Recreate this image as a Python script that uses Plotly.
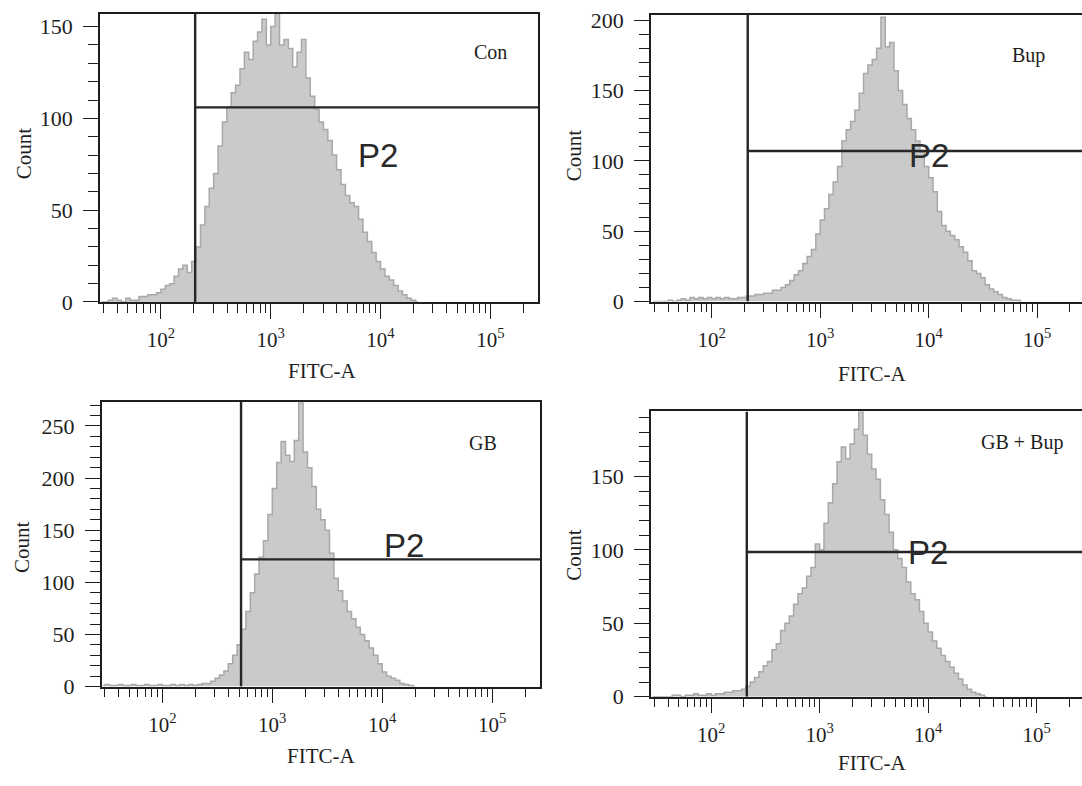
import plotly.graph_objects as go

# ---------------- data ----------------
panel_names = ["Con", "Bup", "GB", "GB + Bup"]

# histogram bins: centre of bin i is 10**(bin_log_start + i*bin_log_step)
bin_log_start = 1.46
bin_log_step = 0.04

con_counts = [0, 0, 1, 2, 1, 0, 2, 1, 1, 3, 3, 4, 4, 5, 7, 9, 10, 14, 18, 20,
              16, 22, 30, 42, 52, 62, 70, 85, 98, 106, 114, 118, 127, 136, 132, 142, 147, 154, 140, 150,
              157, 140, 143, 138, 128, 136, 143, 122, 112, 105, 98, 94, 88, 80, 72, 64, 58, 54, 52, 45,
              38, 33, 27, 22, 18, 14, 12, 9, 6, 4, 2, 1, 0]

bup_counts = [0, 0, 0, 0, 1, 0, 1, 2, 1, 3, 2, 3, 2, 3, 2, 3, 2, 3, 2, 2,
              3, 3, 4, 4, 5, 5, 6, 6, 8, 8, 10, 12, 15, 19, 22, 27, 32, 37, 48, 58,
              66, 76, 85, 96, 114, 122, 128, 136, 148, 162, 168, 172, 180, 202, 181, 184, 164, 150, 140, 130,
              122, 114, 106, 96, 88, 78, 64, 54, 50, 47, 44, 39, 35, 29, 22, 20, 17, 12, 9, 7,
              5, 3, 2, 1, 1, 0]

gb_counts = [1, 2, 1, 1, 2, 1, 1, 2, 1, 1, 2, 1, 1, 2, 1, 1, 2, 1, 2, 1,
             2, 1, 2, 3, 3, 5, 8, 11, 15, 22, 30, 40, 55, 72, 90, 108, 124, 140, 165, 190,
             215, 235, 222, 216, 236, 272, 225, 210, 192, 170, 160, 150, 128, 104, 92, 82, 72, 65, 57, 50,
             44, 37, 30, 22, 14, 10, 8, 6, 3, 2, 1, 0]

gbbup_counts = [0, 0, 0, 0, 0, 1, 1, 0, 1, 1, 2, 1, 1, 2, 1, 2, 2, 3, 3, 4,
                4, 5, 7, 10, 13, 17, 21, 24, 32, 36, 45, 50, 55, 63, 70, 74, 82, 88, 104, 100,
                118, 132, 145, 160, 170, 162, 172, 182, 194, 178, 165, 155, 148, 134, 124, 112, 100, 94, 88, 78,
                70, 66, 58, 50, 44, 38, 33, 28, 24, 20, 16, 12, 8, 5, 3, 2, 1, 0]

all_counts = [con_counts, bup_counts, gb_counts, gbbup_counts]

# P2 gate (FITC-A threshold, Count level of the marker line)
gate_x = [205, 215, 520, 213]
gate_y = [106, 107, 122, 98.5]

# axis ticks
y_max = [157.1, 203.5, 273.0, 194.2]
x_major_ticks = [1e2, 1e3, 1e4, 1e5]
x_major_labels = ["10<sup>2</sup>", "10<sup>3</sup>", "10<sup>4</sup>", "10<sup>5</sup>"]
x_minor_ticks = [30, 40, 50, 60, 70, 80, 90,
                 200, 300, 400, 500, 600, 700, 800, 900,
                 2000, 3000, 4000, 5000, 6000, 7000, 8000, 9000,
                 20000, 30000, 40000, 50000, 60000, 70000, 80000, 90000,
                 200000]

# ---------------- layout config ----------------
W, H = 1082, 786
x_log_range = [[1.445, 5.434], [1.441, 5.413], [1.449, 5.434], [1.445, 5.419]]
# pixel boxes: left, right, top, bottom
boxes = [(100, 538, 6.7, 302.7), (651, 1082, 8.3, 302.3),
         (101.7, 540, 405.3, 697.3), (651, 1082, 415, 707.7)]
label_pos = [(5.0, 136), (4.92, 175), (4.92, 234), (4.87, 173)]
p2_pos = [(3.98, 80), (4.0, 103.5), (4.2, 135), (4.0, 98.3)]
count_title_px = [(24, 150), (574, 152), (22, 554), (574, 562)]
fitc_title_px = [(322, 373), (872, 377), (321, 769), (872, 776)]

SERIF = "Liberation Serif"
INK = "#1e1e1e"

fig = go.Figure()
annotations = []

for k in range(4):
    xa = "x" if k == 0 else f"x{k+1}"
    ya = "y" if k == 0 else f"y{k+1}"
    counts = all_counts[k]
    xs = [10 ** (bin_log_start + i * bin_log_step) for i in range(len(counts))]
    fig.add_trace(go.Scatter(
        x=xs, y=counts, mode="lines", line=dict(shape="hvh", color="#a8a8a8", width=1.5),
        fill="tozeroy", fillcolor="#cacaca", xaxis=xa, yaxis=ya, showlegend=False,
        hoverinfo="skip"))
    xr_hi = 10 ** x_log_range[k][1]
    # vertical gate
    fig.add_trace(go.Scatter(
        x=[gate_x[k], gate_x[k]], y=[0, y_max[k]], mode="lines",
        line=dict(color="#262626", width=2.4), xaxis=xa, yaxis=ya,
        showlegend=False, hoverinfo="skip"))
    # horizontal marker
    fig.add_trace(go.Scatter(
        x=[gate_x[k], xr_hi], y=[gate_y[k], gate_y[k]], mode="lines",
        line=dict(color="#262626", width=2.4), xaxis=xa, yaxis=ya,
        showlegend=False, hoverinfo="skip"))

    l, r, t, b = boxes[k]
    right_col = k in (1, 3)
    xkey = "xaxis" if k == 0 else f"xaxis{k+1}"
    ykey = "yaxis" if k == 0 else f"yaxis{k+1}"
    fig.update_layout(**{
        xkey: dict(
            type="log", range=x_log_range[k], domain=[l / W, min(r / W, 1.0)],
            anchor=ya, showline=True, linecolor=INK, linewidth=1.5, mirror=True,
            showgrid=False, zeroline=False,
            tickmode="array", tickvals=x_major_ticks, ticktext=x_major_labels,
            ticks="outside", ticklen=15, tickwidth=1.2, tickcolor=INK,
            ticklabelstandoff=3,
            tickfont=dict(family=SERIF, size=21, color=INK),
            minor=dict(tickmode="array", tickvals=x_minor_ticks, ticks="outside",
                       ticklen=9, tickwidth=1.2, tickcolor=INK, showgrid=False),
        ),
        ykey: dict(
            range=[0, y_max[k]], domain=[1 - b / H, 1 - t / H], anchor=xa,
            showline=True, linecolor=INK, linewidth=1.5, mirror=(not right_col),
            showgrid=False, zeroline=False,
            tickmode="linear", tick0=0, dtick=50,
            ticks="outside", ticklen=15, tickwidth=1.2, tickcolor=INK,
            ticklabelstandoff=6,
            tickfont=dict(family=SERIF, size=22, color=INK),
            minor=dict(dtick=10, ticks="outside", ticklen=10, tickwidth=1.2,
                       tickcolor=INK, showgrid=False),
        ),
    })

    annotations.append(dict(x=label_pos[k][0], y=label_pos[k][1], xref=xa, yref=ya,
                            text=panel_names[k], showarrow=False,
                            font=dict(family=SERIF, size=20, color=INK)))
    annotations.append(dict(x=p2_pos[k][0], y=p2_pos[k][1], xref=xa, yref=ya,
                            text="P2", showarrow=False,
                            font=dict(family="Liberation Sans", size=33, color="#2a2a2a")))
    cx, cy = count_title_px[k]
    annotations.append(dict(x=cx / W, y=1 - cy / H, xref="paper", yref="paper",
                            text="Count", textangle=-90, showarrow=False,
                            xanchor="center", yanchor="middle",
                            font=dict(family=SERIF, size=21, color=INK)))
    fx, fy = fitc_title_px[k]
    annotations.append(dict(x=fx / W, y=1 - fy / H, xref="paper", yref="paper",
                            text="FITC-A", showarrow=False,
                            xanchor="center", yanchor="middle",
                            font=dict(family=SERIF, size=21, color=INK)))

fig.update_layout(width=W, height=H, autosize=False,
                  margin=dict(l=0, r=0, t=0, b=0),
                  paper_bgcolor="white", plot_bgcolor="white",
                  annotations=annotations, showlegend=False)

fig.write_html("out.html")
